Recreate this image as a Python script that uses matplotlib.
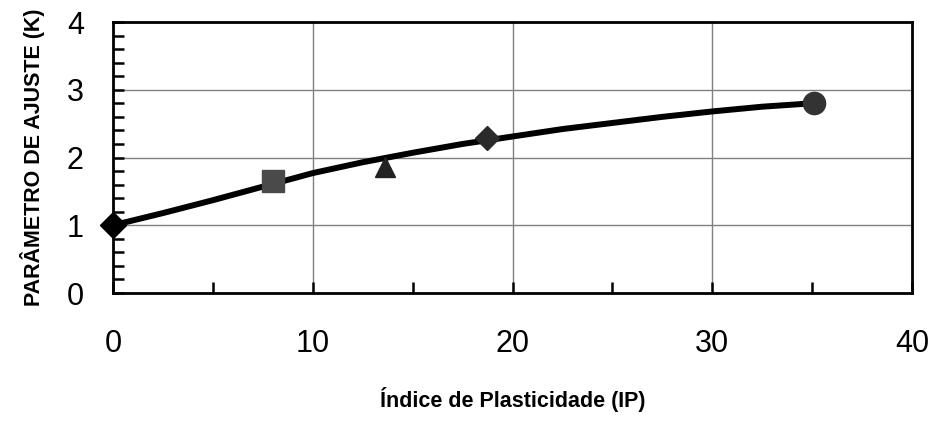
import numpy as np
import matplotlib
matplotlib.use('Agg')
import matplotlib.pyplot as plt
from matplotlib.ticker import MultipleLocator

plt.rcParams['font.family'] = ['Liberation Sans', 'DejaVu Sans']

# measured points (IP, K)
ip_pts = [0, 8.0, 13.6, 18.7, 35.1]
k_pts = [1.0, 1.65, 1.86, 2.29, 2.80]
markers = ['D', 's', '^', 'D', 'o']
mcolors = ['#000000', '#4a4a4a', '#222222', '#2a2a2a', '#333333']
msizes = [13, 16, 15, 12, 16]

# fitted curve
ip_fit = [0, 2.5, 5, 7.5, 10, 12.5, 15, 17.5, 20, 22.5, 25, 27.5, 30, 32.5, 35]
k_fit = [1.0, 1.18, 1.37, 1.57, 1.77, 1.93, 2.07, 2.20, 2.31, 2.42, 2.51, 2.60, 2.68, 2.75, 2.80]

fig = plt.figure(figsize=(9.35, 4.29), dpi=100)
ax = fig.add_axes([0.1209, 0.317, 0.8545, 0.6317])

ax.plot(ip_fit, k_fit, color='black', lw=4.3, solid_capstyle='round', zorder=3)
for x, y, m, c, s in zip(ip_pts, k_pts, markers, mcolors, msizes):
    ax.plot(x, y, marker=m, color=c, ms=s, ls='none', clip_on=False, zorder=4)

ax.set_xlim(0, 40)
ax.set_ylim(0, 4)
ax.xaxis.set_major_locator(MultipleLocator(10))
ax.xaxis.set_minor_locator(MultipleLocator(5))
ax.yaxis.set_major_locator(MultipleLocator(1))
ax.yaxis.set_minor_locator(MultipleLocator(0.2))

ax.grid(which='major', color='#808080', lw=1.0)
ax.tick_params(which='both', direction='in', width=1.8, length=8, labelsize=22)
ax.tick_params(axis='x', which='major', pad=26)
ax.tick_params(axis='y', which='major', pad=21)
for sp in ax.spines.values():
    sp.set_linewidth(2)

ax.set_xlabel('Índice de Plasticidade (IP)', fontsize=15.5, fontweight='bold', labelpad=20)
ax.set_ylabel('PARÂMETRO DE AJUSTE (K)', fontsize=15.5, fontweight='bold', labelpad=16)

fig.savefig('out.png', dpi=100)
